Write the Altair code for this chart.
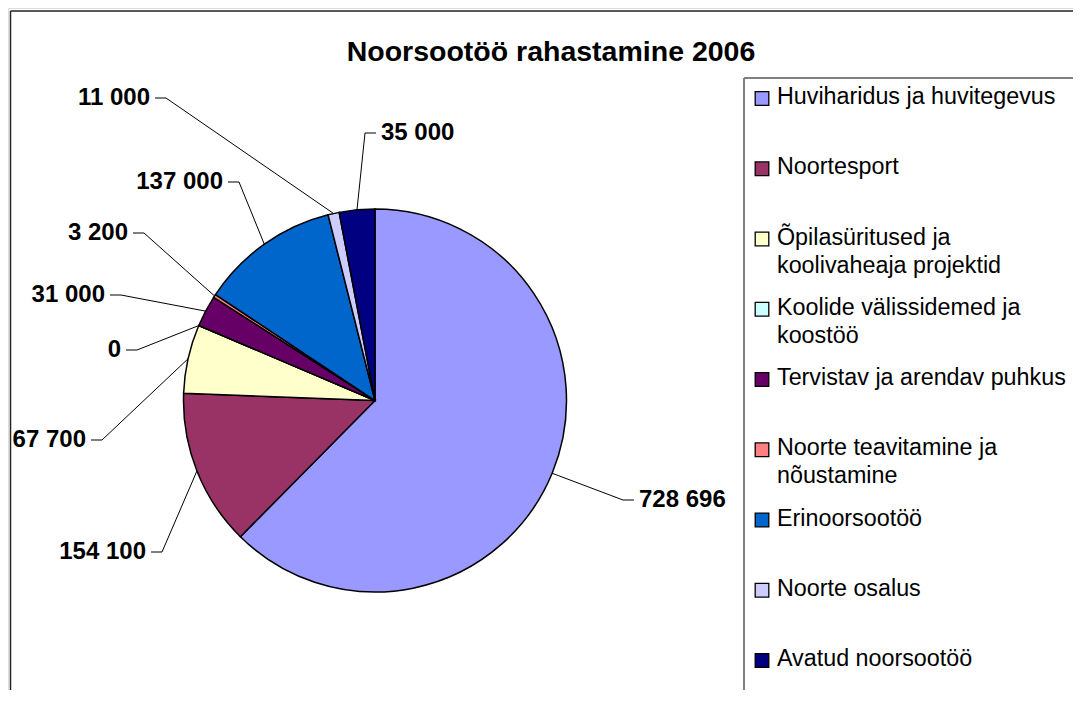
import math
import altair as alt
import pandas as pd

# ---------------- data ----------------
categories = [
    "Huviharidus ja huvitegevus",
    "Noortesport",
    "Õpilasüritused ja koolivaheaja projektid",
    "Koolide välissidemed ja koostöö",
    "Tervistav ja arendav puhkus",
    "Noorte teavitamine ja nõustamine",
    "Erinoorsootöö",
    "Noorte osalus",
    "Avatud noorsootöö",
]
legend_labels = [
    "Huviharidus ja huvitegevus",
    "Noortesport",
    "Õpilasüritused ja\nkoolivaheaja projektid",
    "Koolide välissidemed ja\nkoostöö",
    "Tervistav ja arendav puhkus",
    "Noorte teavitamine ja\nnõustamine",
    "Erinoorsootöö",
    "Noorte osalus",
    "Avatud noorsootöö",
]
values = [728696, 154100, 67700, 0, 31000, 3200, 137000, 11000, 35000]
title_text = "Noorsootöö rahastamine 2006"

# ---------------- style / layout ----------------
colors = ["#9999FF", "#993366", "#FFFFCC", "#CCFFFF", "#660066",
          "#FF8080", "#0066CC", "#CCCCFF", "#000080"]
FONT = "Liberation Sans"
W, H = 1065, 682
CX, CY, R = 367, 392.5, 191.5
# label anchor (view px) and side: -1 = text right-aligned (left of pie), 1 = left-aligned
label_layout = [
    (631, 492, 1), (138, 544, -1), (78, 432, -1), (113, 342, -1), (97, 287, -1),
    (120, 225, -1), (215, 174, -1), (142, 90, -1), (373, 125, 1),
]
GAP, SEG = 5, 11

# ---------------- derived tables ----------------
df = pd.DataFrame({"idx": range(len(categories)), "cat": categories,
                   "value": values, "legend": legend_labels})
df["label"] = [f"{v:,}".replace(",", " ") for v in values]
total = sum(values)
cum = 0
ex, ey = [], []
for v in values:
    mid = (cum + v / 2) / total * 2 * math.pi
    ex.append(CX + R * math.sin(mid))
    ey.append(CY - R * math.cos(mid))
    cum += v
df["tx"] = [p[0] for p in label_layout]
df["ty"] = [p[1] for p in label_layout]
df["side"] = [p[2] for p in label_layout]

lead_rows = []
for i, row in df.iterrows():
    s = row["side"]
    lead_rows.append({"cat": row["cat"], "pt": 0, "x": row["tx"] - s * GAP, "y": row["ty"]})
    lead_rows.append({"cat": row["cat"], "pt": 1, "x": row["tx"] - s * (GAP + SEG), "y": row["ty"]})
    lead_rows.append({"cat": row["cat"], "pt": 2, "x": ex[i], "y": ey[i]})
lead_df = pd.DataFrame(lead_rows)

color_scale = alt.Scale(domain=categories, range=colors)

pie = alt.Chart(df).mark_arc(outerRadius=R, stroke="black", strokeWidth=1.5).encode(
    theta=alt.Theta("value:Q", stack=True),
    order=alt.Order("idx:Q"),
    color=alt.Color("cat:N", scale=color_scale, legend=None),
    x=alt.value(CX), y=alt.value(CY),
)

leaders = alt.Chart(lead_df).mark_line(color="black", strokeWidth=1).encode(
    x=alt.X("x:Q", scale=None), y=alt.Y("y:Q", scale=None),
    detail="cat:N", order="pt:Q",
)

lab_left = alt.Chart(df[df.side < 0]).mark_text(
    align="right", baseline="middle", font=FONT, fontSize=24, fontWeight="bold", color="black"
).encode(x=alt.X("tx:Q", scale=None), y=alt.Y("ty:Q", scale=None), text="label:N")

lab_right = alt.Chart(df[df.side > 0]).mark_text(
    align="left", baseline="middle", font=FONT, fontSize=24, fontWeight="bold", color="black"
).encode(x=alt.X("tx:Q", scale=None), y=alt.Y("ty:Q", scale=None), text="label:N")

title = alt.Chart(pd.DataFrame({"t": [title_text]})).mark_text(
    align="center", baseline="middle", font=FONT, fontSize=28.5, fontWeight="bold", color="black"
).encode(x=alt.value(543), y=alt.value(44), text="t:N")

leg_y = alt.Y("idx:Q", scale=alt.Scale(domain=[0, 8], range=[90.5, 652.5]), axis=None)
leg_sym = alt.Chart(df).mark_square(size=185, stroke="black", strokeWidth=1.3, opacity=1).encode(
    x=alt.value(754), y=leg_y,
    color=alt.Color("cat:N", scale=color_scale, legend=None),
)
leg_txt = alt.Chart(df).mark_text(
    align="left", baseline="alphabetic", dy=5.5, lineBreak="\n", lineHeight=28,
    font=FONT, fontSize=23.3, color="black"
).encode(x=alt.value(769), y=leg_y, text="legend:N")

border_df = pd.DataFrame({"k": [0]})
outer_left = alt.Chart(border_df).mark_rule(color="#222222", strokeWidth=1.5).encode(
    x=alt.value(2.5), y=alt.value(3), y2=alt.value(H))
outer_top = alt.Chart(border_df).mark_rule(color="#222222", strokeWidth=1.5).encode(
    x=alt.value(2.5), x2=alt.value(W), y=alt.value(3))
leg_left = alt.Chart(border_df).mark_rule(color="#808080", strokeWidth=2).encode(
    x=alt.value(736), y=alt.value(70), y2=alt.value(H))
leg_top = alt.Chart(border_df).mark_rule(color="#808080", strokeWidth=2).encode(
    x=alt.value(736), x2=alt.value(W), y=alt.value(70))

chart = alt.layer(
    outer_left, outer_top, leg_left, leg_top,
    pie, leaders, lab_left, lab_right, title, leg_sym, leg_txt,
).resolve_scale(x="independent", y="independent").properties(
    width=W, height=H, padding=0, autosize="none",
).configure_view(stroke=None).configure(font=FONT)

chart.save("out.html", embed_options={"renderer": "svg", "actions": False})
